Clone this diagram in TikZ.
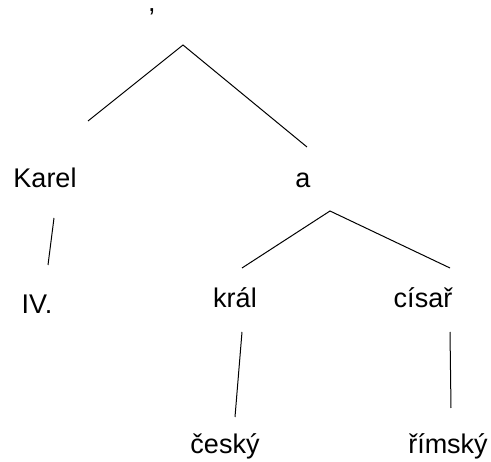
\documentclass[tikz,border=0pt]{standalone}
\usepackage{fontspec}
\setmainfont{Liberation Sans}

\begin{document}
\begin{tikzpicture}[x=1pt,y=-1pt,word/.style={font=\fontsize{27}{32}\selectfont,inner sep=0pt,anchor=base},edge/.style={line width=1pt}]
  \useasboundingbox (0,0) rectangle (491,462);
  \node[word] (comma) at (152,12) {,};
  \node[word] (karel) at (45,188) {Karel};
  \node[word] (a) at (303,188) {a};
  \node[word] (iv) at (37,314) {IV.};
  \node[word] (kral) at (235,308) {král};
  \node[word] (cisar) at (423,308) {císař};
  \node[word] (cesky) at (225,454) {český};
  \node[word] (rimsky) at (448,454) {římský};
  \coordinate (top) at (183,45);
  \coordinate (topleft) at (88,121);
  \coordinate (topright) at (307,147);
  \coordinate (karelup) at (54,218);
  \coordinate (kareldown) at (48,265);
  \coordinate (amid) at (330,211);
  \coordinate (aleft) at (242,268);
  \coordinate (aright) at (450,268);
  \coordinate (kralup) at (242,332);
  \coordinate (kraldown) at (235,417);
  \coordinate (cisarup) at (450,332);
  \coordinate (cisardown) at (451,408);
  \draw[edge] (topleft) -- (top) -- (topright);
  \draw[edge] (karelup) -- (kareldown);
  \draw[edge] (aleft) -- (amid) -- (aright);
  \draw[edge] (kralup) -- (kraldown);
  \draw[edge] (cisarup) -- (cisardown);
\end{tikzpicture}
\end{document}
